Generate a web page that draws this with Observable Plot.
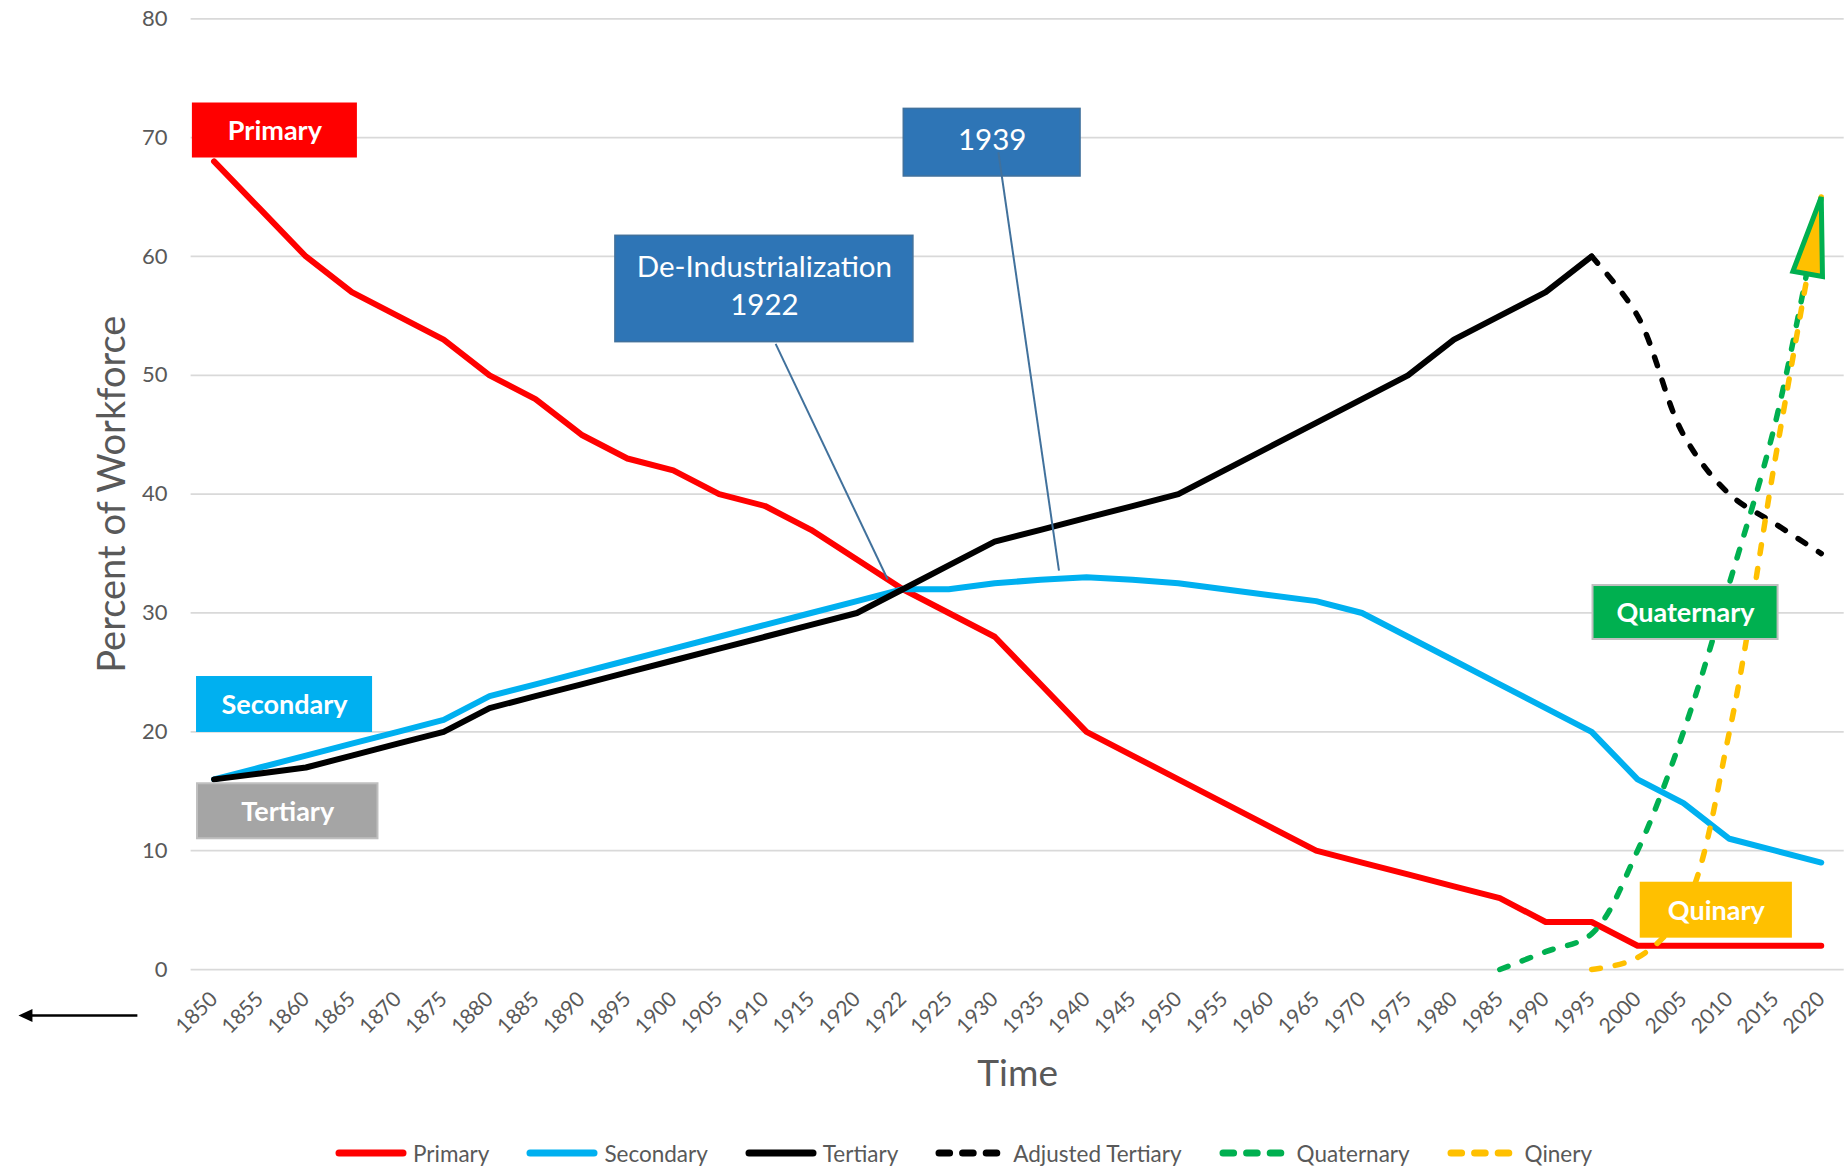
<!DOCTYPE html>
<html>
<head>
<meta charset="utf-8">
<script src="https://cdn.jsdelivr.net/npm/d3@7"></script>
<script src="https://cdn.jsdelivr.net/npm/@observablehq/plot@0.6"></script>
<style>
  body { margin: 0; background: #fff; font-family: Lato, "Open Sans", sans-serif; }
  #wrap { position: relative; width: 1845px; height: 1167px; overflow: hidden; }
  #legend { position: absolute; left: 335px; top: 1135px; height: 36px; display: flex; align-items: center; font-size: 22.5px; color: #595959; }
  .item { display: flex; align-items: center; margin-right: 37px; white-space: nowrap; }
  .item svg { margin-right: 6px; }
</style>
</head>
<body>
<div id="wrap"></div>
<script>
// ---- Data ----
const years = ["1850","1855","1860","1865","1870","1875","1880","1885","1890","1895",
               "1900","1905","1910","1915","1920","1922","1925","1930","1935","1940",
               "1945","1950","1955","1960","1965","1970","1975","1980","1985","1990",
               "1995","2000","2005","2010","2015","2020"];

const primary    = [68,64,60,57,55,53,50,48,45,43, 42,40,39,37,34.5,32,30,28,24,20,
                    18,16,14,12,10,9,8,7,6,4, 4,2,2,2,2,2];
const secondary  = [16,17,18,19,20,21,23,24,25,26, 27,28,29,30,31,32,32,32.5,32.8,33,
                    32.8,32.5,32,31.5,31,30,28,26,24,22, 20,16,14,11,10,9];
const tertiary   = [16,16.5,17,18,19,20,22,23,24,25, 26,27,28,29,30,32,34,36,37,38,
                    39,40,42,44,46,48,50,53,55,57, 60,null,null,null,null,null];
const adjustedTertiary = [null,null,null,null,null,null,null,null,null,null,
                    null,null,null,null,null,null,null,null,null,null,
                    null,null,null,null,null,null,null,null,null,null,
                    60,55,45,40,37.5,35];
const quaternary = [null,null,null,null,null,null,null,null,null,null,
                    null,null,null,null,null,null,null,null,null,null,
                    null,null,null,null,null,null,null,null,0,1.5,
                    3,10,20,32.5,46,65];
const qinery     = [null,null,null,null,null,null,null,null,null,null,
                    null,null,null,null,null,null,null,null,null,null,
                    null,null,null,null,null,null,null,null,null,null,
                    0,1,5,20,43,65];

const yTicks = [0,10,20,30,40,50,60,70,80];

const seriesNames = ["Primary","Secondary","Tertiary","Adjusted Tertiary","Quaternary","Qinery"];
const seriesColors = ["#FF0000","#00B0F0","#000000","#000000","#00B050","#FFC000"];

// ---- Annotations (placed in data units: x = category index, y = percent) ----
const boxLabels = ["Primary","Secondary","Tertiary","Quaternary","Quinary"];
const boxX1 = [-0.45, -0.36, -0.36, 30.03, 31.08];
const boxX2 = [ 3.10,  3.43,  3.57, 34.06, 34.35];
const boxY1 = [68.37, 20.03, 11.0, 27.77, 2.72];
const boxY2 = [72.83, 24.57, 15.63, 32.31, 7.26];
const boxFill = ["#FF0000","#00B0F0","#A5A5A5","#00B050","#FFC000"];
const boxStroke = ["#FF0000","#00B0F0","#BFBFBF","#BFBFBF","#FFC000"];

const noteLabels = ["De-Industrialization\n1922", "1939"];
const noteX1 = [8.74, 15.02], noteX2 = [15.23, 18.87];
const noteY1 = [52.79, 66.73], noteY2 = [61.74, 72.42];
const leaderX1 = [12.23, 17.08], leaderY1 = [52.65, 68.77];
const leaderX2 = [14.67, 18.40], leaderY2 = [32.82, 33.57];

const backArrow = {x1: -1.67, x2: -4.1, xTip: -4.26, y: -3.87};

// ---- Build tables ----
const idx = d3.range(years.length);
const rows = arr => idx.filter(i => arr[i] != null).map(i => ({i, v: arr[i]}));
const boxes = boxLabels.map((label, k) => ({label, x1: boxX1[k], x2: boxX2[k], y1: boxY1[k], y2: boxY2[k], fill: boxFill[k], stroke: boxStroke[k]}));
const notes = noteLabels.map((label, k) => ({label, x1: noteX1[k], x2: noteX2[k], y1: noteY1[k], y2: noteY2[k]}));
const leaders = leaderX1.map((_, k) => ({x1: leaderX1[k], y1: leaderY1[k], x2: leaderX2[k], y2: leaderY2[k]}));

const arrowHead = { draw(ctx) { ctx.moveTo(0, 0); ctx.lineTo(-15, 78); ctx.lineTo(15, 78); ctx.closePath(); } };
const leftHead = { draw(ctx) { ctx.moveTo(0, 0); ctx.lineTo(14, -6.5); ctx.lineTo(14, 6.5); ctx.closePath(); } };

const solid = (arr, color) => Plot.line(rows(arr), {x: "i", y: "v", stroke: color, strokeWidth: 6, strokeLinecap: "round", strokeLinejoin: "round"});
const dashed = (arr, color) => Plot.line(rows(arr), {x: "i", y: "v", stroke: color, strokeWidth: 5.5, strokeLinecap: "round", strokeDasharray: "9,15", curve: "catmull-rom"});

const chart = Plot.plot({
  width: 1845,
  height: 1120,
  marginLeft: 190.6,
  marginRight: 1.3,
  marginTop: 18.3,
  marginBottom: 151,
  x: {domain: [-0.5, 35.5]},
  y: {domain: [0, 80]},
  color: {type: "identity"},
  style: {fontFamily: "Lato, 'Open Sans', sans-serif", background: "white", overflow: "visible"},
  marks: [
    Plot.gridY(yTicks, {stroke: "#D9D9D9", strokeOpacity: 1, strokeWidth: 1.75}),
    Plot.axisY(yTicks, {tickSize: 0, tickPadding: 23.6, fontSize: 22, fill: "#595959", label: null}),
    Plot.axisX(idx, {tickFormat: i => years[i], tickRotate: -45, tickSize: 0, tickPadding: 26, fontSize: 21, fill: "#595959", label: null}),
    Plot.text(["Percent of Workforce"], {frameAnchor: "left", dx: -78.6, rotate: -90, textAnchor: "middle", lineAnchor: "middle", fontSize: 38, fill: "#595959"}),
    Plot.text(["Time"], {frameAnchor: "bottom", dy: 105, textAnchor: "middle", lineAnchor: "middle", fontSize: 37, fill: "#595959"}),
    solid(primary, seriesColors[0]),
    solid(secondary, seriesColors[1]),
    solid(tertiary, seriesColors[2]),
    dashed(adjustedTertiary, seriesColors[3]),
    dashed(quaternary, seriesColors[4]),
    dashed(qinery, seriesColors[5]),
    Plot.dot([{i: 35, v: qinery[35]}], {x: "i", y: "v", symbol: arrowHead, r: 10, rotate: 10, fill: "#FFC000", stroke: "#00B050", strokeWidth: 5}),
    Plot.rect(boxes, {x1: "x1", x2: "x2", y1: "y1", y2: "y2", fill: "fill", stroke: "stroke", strokeWidth: 2}),
    Plot.rect(notes, {x1: "x1", x2: "x2", y1: "y1", y2: "y2", fill: "#2E75B6", stroke: "#41719C", strokeWidth: 1.5}),
    Plot.link(leaders, {x1: "x1", y1: "y1", x2: "x2", y2: "y2", stroke: "#41719C", strokeWidth: 2}),
    Plot.text(boxes, {x: d => (d.x1 + d.x2) / 2, y: d => (d.y1 + d.y2) / 2, text: "label", fill: "white", fontWeight: "bold", fontSize: 27, dy: 1}),
    Plot.text(notes, {x: d => (d.x1 + d.x2) / 2, y: d => (d.y1 + d.y2) / 2, text: "label", fill: "white", fontSize: 29.5, lineHeight: 1.3, dy: -5}),
    Plot.link([backArrow], {x1: "x1", x2: "x2", y1: "y", y2: "y", stroke: "black", strokeWidth: 2.5}),
    Plot.dot([backArrow], {x: "xTip", y: "y", symbol: leftHead, r: 6, fill: "black", stroke: "none"})
  ]
});

const wrap = document.getElementById("wrap");
wrap.append(chart);

// ---- Legend ----
const legend = document.createElement("div");
legend.id = "legend";
seriesNames.forEach((name, k) => {
  const isDashed = k >= 3;
  const item = document.createElement("div");
  item.className = "item";
  const dash = isDashed ? ` stroke-dasharray="10.6,13"` : "";
  item.innerHTML = `<svg width="72" height="14"><line x1="4" y1="7" x2="${isDashed ? 66 : 68}" y2="7" stroke="${seriesColors[k]}" stroke-width="7" stroke-linecap="round"${dash}/></svg><span>${name}</span>`;
  legend.append(item);
});
wrap.append(legend);
</script>
</body>
</html>
